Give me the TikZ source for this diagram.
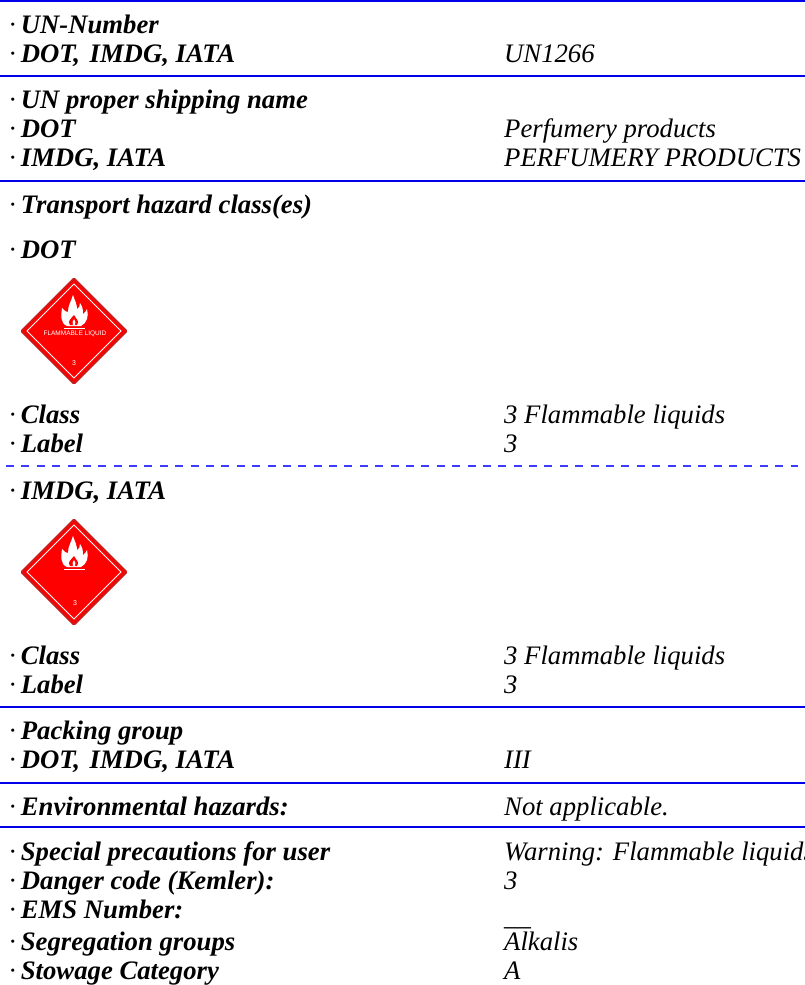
\documentclass[tikz,border=0pt]{standalone}
\usepackage{fontspec}
\setmainfont{Liberation Serif}
\newfontfamily\placardfont{Liberation Sans}
\definecolor{rulecol}{RGB}{0,0,235}
\definecolor{dashcol}{RGB}{60,60,255}
\definecolor{placard}{RGB}{255,0,0}
\definecolor{placardedge}{RGB}{205,25,25}
\tikzset{
  px/.style={x=1pt,y=-1pt},
  lab/.style={anchor=base west,inner sep=0pt,font=\fontsize{26.7}{29}\selectfont\bfseries\itshape},
  val/.style={anchor=base west,inner sep=0pt,font=\fontsize{26.7}{29}\selectfont\itshape},
  sepline/.style={draw=rulecol,line width=2pt},
  dashline/.style={draw=dashcol,line width=1.3pt,dash pattern=on 8pt off 7.385pt},
  flame/.style={fill=white,draw=none},
  pc/.pic={
    \fill[placardedge,rounded corners=1.5pt] (0,-54)--(54,0)--(0,54)--(-54,0)--cycle;
    \fill[placard] (0,-51)--(51,0)--(0,51)--(-51,0)--cycle;
    \draw[white,line width=1pt] (0,-47)--(47,0)--(0,47)--(-47,0)--cycle;
    \fill[flame] (-7,-5) .. controls (-14,-8) and (-13,-16) .. (-12,-23)
      .. controls (-9,-20) and (-8,-19) .. (-6,-19)
      .. controls (-6,-26) and (-3,-29) .. (-1,-36)
      .. controls (1,-30) and (3,-27) .. (3,-22)
      .. controls (5,-23) and (6,-25) .. (6,-28)
      .. controls (9,-24) and (9,-20) .. (9,-17)
      .. controls (11,-18) and (12,-20) .. (13,-22)
      .. controls (15,-15) and (13,-8) .. (7,-5) -- cycle;
    \fill[placard] (-4,-6) .. controls (-7,-10) and (-3,-12) .. (0,-16)
      .. controls (2,-12) and (6,-10) .. (3,-6) -- cycle;
    \fill[white] (-1.2,-6) .. controls (-2,-9) and (-1,-10) .. (0,-12)
      .. controls (1,-10) and (2,-9) .. (1.2,-6) -- cycle;
    \fill[white] (-10,-3.5) rectangle (11,-2.5);
  }
}
\begin{document}
\begin{tikzpicture}[px]
\useasboundingbox (0,0) rectangle (805,985);
\clip (0,0) rectangle (805,985);
\fill[white] (0,0) rectangle (805,985);
\coordinate (r1a) at (0,1); \coordinate (r1b) at (805,1);
\coordinate (r2a) at (0,76); \coordinate (r2b) at (805,76);
\coordinate (r3a) at (0,181); \coordinate (r3b) at (805,181);
\coordinate (r4a) at (6,466); \coordinate (r4b) at (798,466);
\coordinate (r5a) at (0,707); \coordinate (r5b) at (805,707);
\coordinate (r6a) at (0,783); \coordinate (r6b) at (805,783);
\coordinate (r7a) at (0,827); \coordinate (r7b) at (805,827);
\draw[sepline] (r1a)--(r1b);
\draw[sepline] (r2a)--(r2b);
\draw[sepline] (r3a)--(r3b);
\draw[dashline] (r4a)--(r4b);
\draw[sepline] (r5a)--(r5b);
\draw[sepline] (r6a)--(r6b);
\draw[sepline] (r7a)--(r7b);
\newcommand{\dotlab}[3]{\node[lab] (#1) at (9,#2) {{\mdseries ·}\hspace{5pt}#3};}
\newcommand{\valtxt}[3]{\node[val] (#1) at (504,#2) {#3};}
\dotlab{a1}{33}{UN-Number}
\dotlab{a2}{62}{DOT,\hspace{3pt} IMDG, IATA}\valtxt{v2}{62}{UN1266}
\dotlab{a3}{108}{UN proper shipping name}
\dotlab{a4}{137}{DOT}\valtxt{v4}{137}{Perfumery products}
\dotlab{a5}{166}{IMDG, IATA}\valtxt{v5}{166}{PERFUMERY PRODUCTS}
\dotlab{a6}{213}{Transport hazard class(es)}
\dotlab{a7}{258}{DOT}
\pic (p1) at (74,331) {pc};
\node[inner sep=0pt,white,font=\placardfont\fontsize{6.5}{6}\selectfont] (p1t) at (75,334) {FLAMMABLE LIQUID};
\node[inner sep=0pt,white,font=\placardfont\fontsize{7}{6}\selectfont] (p1n) at (74,363) {3};
\dotlab{a8}{423}{Class}\valtxt{v8}{423}{3 Flammable liquids}
\dotlab{a9}{452}{Label}\valtxt{v9}{452}{3}
\dotlab{a10}{499}{IMDG, IATA}
\pic (p2) at (74,572) {pc};
\node[inner sep=0pt,white,font=\placardfont\fontsize{7}{6}\selectfont] (p2n) at (75,603) {3};
\dotlab{a11}{664}{Class}\valtxt{v11}{664}{3 Flammable liquids}
\dotlab{a12}{693}{Label}\valtxt{v12}{693}{3}
\dotlab{a13}{739}{Packing group}
\dotlab{a14}{768}{DOT,\hspace{3pt} IMDG, IATA}\valtxt{v14}{768}{III}
\dotlab{a15}{815}{Environmental hazards:}\valtxt{v15}{815}{Not applicable.}
\dotlab{a16}{860}{Special precautions for user}\valtxt{v16}{860}{Warning: Flammable liquids}
\dotlab{a17}{889}{Danger code (Kemler):}\valtxt{v17}{889}{3}
\dotlab{a18}{918}{EMS Number:}\valtxt{v18}{925}{\_\_}
\dotlab{a19}{950}{Segregation groups}\valtxt{v19}{950}{Alkalis}
\dotlab{a20}{979}{Stowage Category}\valtxt{v20}{979}{A}
\end{tikzpicture}
\end{document}
